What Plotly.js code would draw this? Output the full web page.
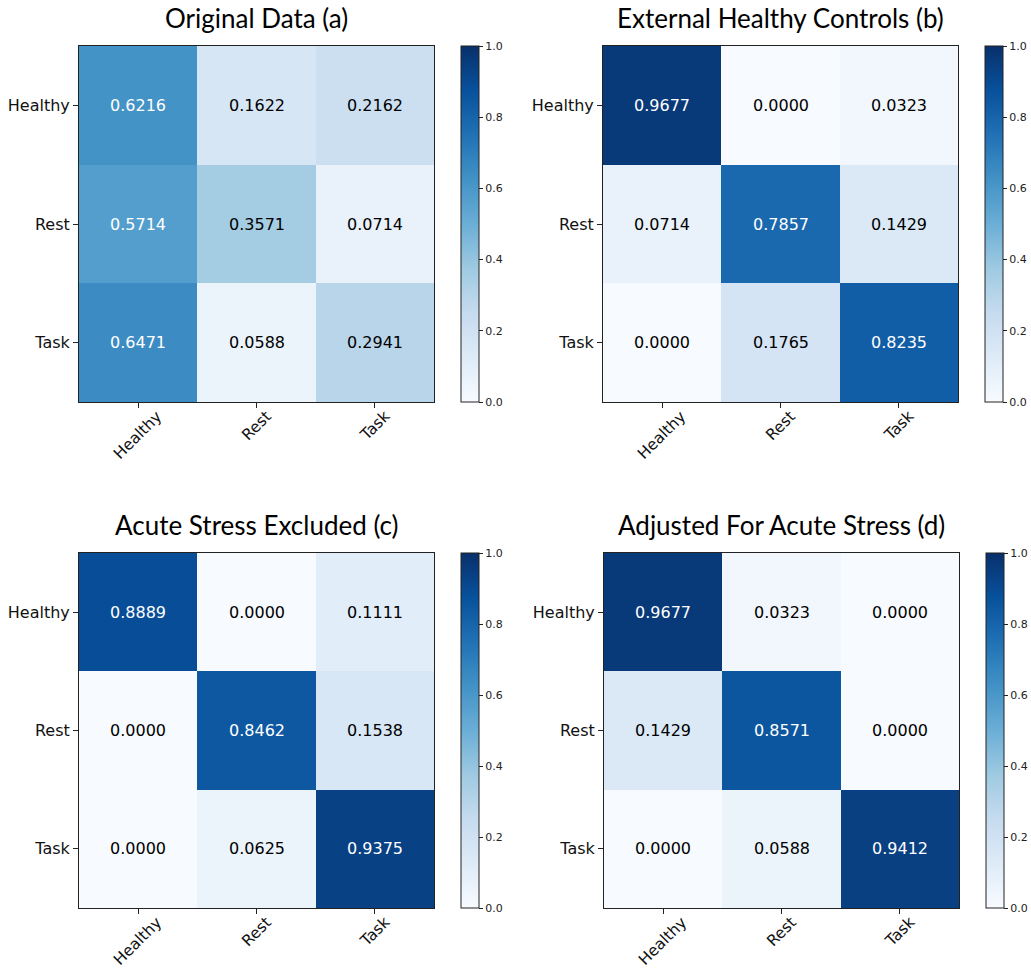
<!DOCTYPE html>
<html>
<head>
<meta charset="utf-8">
<script src="https://cdn.plot.ly/plotly-3.0.1.min.js"></script>
<style>html,body{margin:0;padding:0;background:#fff;}</style>
</head>
<body>
<div id="chart" style="width:1031px;height:970px;"></div>
<script>
const categories = ["Healthy", "Rest", "Task"];
const titles = ["Original Data (a)", "External Healthy Controls (b)", "Acute Stress Excluded (c)", "Adjusted For Acute Stress (d)"];
const cmA = [[0.6216, 0.1622, 0.2162], [0.5714, 0.3571, 0.0714], [0.6471, 0.0588, 0.2941]];
const cmB = [[0.9677, 0.0000, 0.0323], [0.0714, 0.7857, 0.1429], [0.0000, 0.1765, 0.8235]];
const cmC = [[0.8889, 0.0000, 0.1111], [0.0000, 0.8462, 0.1538], [0.0000, 0.0625, 0.9375]];
const cmD = [[0.9677, 0.0323, 0.0000], [0.1429, 0.8571, 0.0000], [0.0000, 0.0588, 0.9412]];
const matrices = [cmA, cmB, cmC, cmD];

const blues = [[0, '#f7fbff'], [0.125, '#deebf7'], [0.25, '#c6dbef'], [0.375, '#9ecae1'], [0.5, '#6baed6'], [0.625, '#4292c6'], [0.75, '#2171b5'], [0.875, '#08519c'], [1, '#08306b']];

const W = 1031, H = 970;
// pixel boxes [left, top, right, bottom]
const boxes = [[79, 46, 434, 402], [603, 46, 958, 402], [79, 553, 434, 908], [604, 553, 959, 908]];
const cbLeft = [461, 985, 461, 986];

const data = [];
const layout = {
  width: W, height: H, margin: {l: 0, r: 0, t: 0, b: 0},
  paper_bgcolor: '#fff', plot_bgcolor: '#fff', showlegend: false,
  font: {family: 'DejaVu Sans', color: '#000'},
  annotations: []
};

matrices.forEach((m, i) => {
  const n = i === 0 ? '' : String(i + 1);
  const b = boxes[i];
  const xd = [b[0] / W, b[2] / W];
  const yd = [1 - b[3] / H, 1 - b[1] / H];
  data.push({
    type: 'heatmap', z: m, x: categories, y: categories,
    xaxis: 'x' + n, yaxis: 'y' + n,
    zmin: 0, zmax: 1, colorscale: blues, xgap: 0, ygap: 0,
    hoverinfo: 'skip',
    colorbar: {
      x: cbLeft[i] / W, xanchor: 'left', xref: 'paper',
      y: (yd[0] + yd[1]) / 2, yanchor: 'middle',
      len: yd[1] - yd[0], lenmode: 'fraction',
      thickness: 18, thicknessmode: 'pixels', xpad: 0, ypad: 0,
      outlinewidth: 1, outlinecolor: '#222',
      tickmode: 'array', tickvals: [0, 0.2, 0.4, 0.6, 0.8, 1.0],
      ticktext: ['0.0', '0.2', '0.4', '0.6', '0.8', '1.0'],
      ticks: 'outside', ticklen: 4, tickcolor: '#222', tickwidth: 1,
      tickfont: {family: 'DejaVu Sans', size: 11, color: '#222'}
    }
  });
  layout['xaxis' + n] = {
    domain: xd, anchor: 'y' + n, type: 'category',
    showline: true, mirror: true, linecolor: '#222', linewidth: 1,
    ticks: 'outside', ticklen: 5, tickcolor: '#222',
    showticklabels: false, showgrid: false, zeroline: false, fixedrange: true
  };
  layout['yaxis' + n] = {
    domain: yd, anchor: 'x' + n, type: 'category', autorange: 'reversed',
    showline: true, mirror: true, linecolor: '#222', linewidth: 1,
    ticks: 'outside', ticklen: 5, tickcolor: '#222',
    tickfont: {family: 'DejaVu Sans', size: 16, color: '#111'},
    showgrid: false, zeroline: false, fixedrange: true
  };
  // title
  layout.annotations.push({
    text: titles[i], xref: 'paper', yref: 'paper',
    x: (xd[0] + xd[1]) / 2, xanchor: 'center', y: yd[1], yanchor: 'bottom', yshift: 10,
    showarrow: false, font: {family: 'Lato', size: 26, color: '#000'}
  });
  // rotated x labels
  categories.forEach(c => {
    layout.annotations.push({
      text: c, xref: 'x' + n, yref: 'paper', x: c, xanchor: 'center', y: yd[0],
      yanchor: 'top', yshift: -3, textangle: -45, showarrow: false,
      font: {family: 'DejaVu Sans', size: 15.5, color: '#111'}
    });
  });
  // cell values
  m.forEach((row, r) => {
    row.forEach((v, c) => {
      layout.annotations.push({
        text: v.toFixed(4), xref: 'x' + n, yref: 'y' + n,
        x: categories[c], y: categories[r], showarrow: false,
        font: {family: 'DejaVu Sans', size: 16, color: v > 0.5 ? '#fff' : '#000'}
      });
    });
  });
});

Plotly.newPlot('chart', data, layout, {staticPlot: true, displayModeBar: false});
</script>
</body>
</html>
